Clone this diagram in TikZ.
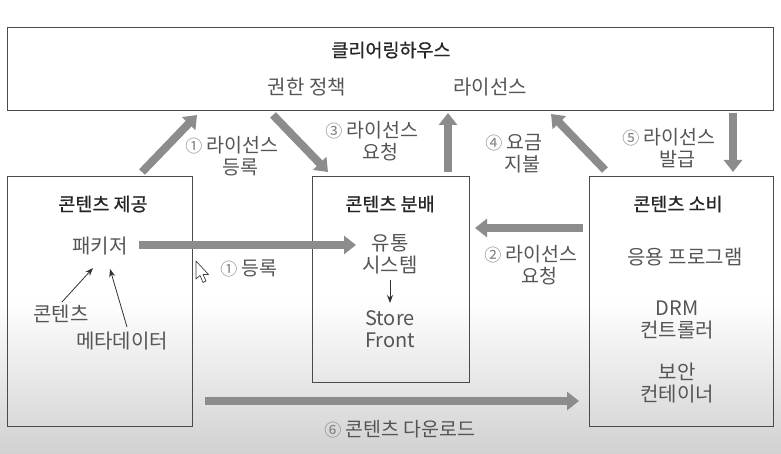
\documentclass[tikz,border=0pt]{standalone}
\usepackage{fontspec}
\setmainfont{Noto Sans CJK KR}
\newfontfamily\krtitle[FakeBold=0.8]{Noto Sans CJK KR}
\usetikzlibrary{arrows.meta,calc}
\definecolor{arrowgray}{HTML}{8C8C8C}
\definecolor{boxline}{HTML}{4A4A4A}
\definecolor{txtgray}{HTML}{555555}
\definecolor{numgray}{HTML}{808080}
\begin{document}
\begin{tikzpicture}[x=1pt,y=-1pt,
  box/.style={draw=boxline, line width=1.2pt, inner sep=0pt},
  ttl/.style={font=\krtitle\fontsize{18.5}{22}\selectfont, text=black!85, inner sep=0pt},
  txt/.style={font=\fontsize{20}{22}\selectfont, text=txtgray, align=center, inner sep=0pt},
  lbl/.style={font=\fontsize{19.5}{22}\selectfont, text=txtgray, align=center, inner sep=0pt},
  bigarrow/.style={-{Triangle[width=18pt,length=12pt]}, line width=8pt, draw=arrowgray},
  thinarrow/.style={-{Stealth[width=6pt,length=8pt]}, line width=0.8pt, draw=black!80}]
\newcommand{\cn}[1]{{\color{numgray}\fontsize{17}{22}\selectfont#1}}
% background
\fill[white] (0,0) rectangle (781,454);
\shade[top color=white, bottom color=black!18] (0,300) rectangle (781,454);
\useasboundingbox (0,0) rectangle (781,454);

% boxes
\node[box, anchor=north west, minimum width=766pt, minimum height=83pt] (ch) at (7,27) {};
\node[box, anchor=north west, minimum width=185pt, minimum height=250pt] (prov) at (7,176) {};
\node[box, anchor=north west, minimum width=157pt, minimum height=206pt] (dist) at (312,176) {};
\node[box, anchor=north west, minimum width=184pt, minimum height=250pt] (cons) at (589,176) {};

% clearing house texts
\node[ttl] (chT) at (391,50) {클리어링하우스};
\node[txt] (pol) at (307,87) {권한 정책};
\node[txt] (lic) at (490,87) {라이선스};

% provider
\node[ttl] (provT) at (103,204) {콘텐츠 제공};
\node[txt] (pk) at (100,246) {패키저};
\node[txt] (c1) at (61,314) {콘텐츠};
\node[txt] (md) at (122,341) {메타데이터};

% distribution
\node[ttl] (distT) at (390,204) {콘텐츠 분배};
\node[txt] (sys) at (390,254) {유통\\시스템};
\node[txt] (sf) at (390,329) {Store\\Front};

% consumer
\node[ttl] (consT) at (678,204) {콘텐츠 소비};
\node[txt] (app) at (685,257) {응용 프로그램};
\node[txt] (drm) at (677,320) {DRM\\컨트롤러};
\node[txt] (sec) at (677,383) {보안\\컨테이너};

% labels
\node[lbl] (l1) at (232,156) {\cn{①} 라이선스\\\phantom{\cn{①}}등록};
\node[lbl] (l3) at (372,141) {\cn{③} 라이선스\\\phantom{\cn{①}}요청};
\node[lbl] (l4) at (514,154) {\cn{④} 요금\\\phantom{\cn{①}}지불};
\node[lbl] (l5) at (669,148) {\cn{⑤} 라이선스\\\phantom{\cn{①}}발급};
\node[lbl] (l2) at (531,265) {\cn{②} 라이선스\\\phantom{\cn{①}}요청};
\node[lbl] (lr) at (249,268) {\cn{①} 등록};
\node[lbl] (l6) at (400,429) {\cn{⑥} 콘텐츠 다운로드};

% arrow end points
\coordinate (a1s) at (142,172); \coordinate (a1e) at (197,115);
\coordinate (a3s) at (273,115); \coordinate (a3e) at (328,172);
\coordinate (a4s) at (448,172); \coordinate (a4e) at (448,113);
\coordinate (a6s) at (605,170); \coordinate (a6e) at (551,114);
\coordinate (a5s) at (733,113); \coordinate (a5e) at (733,172);
\coordinate (a2s) at (583,228); \coordinate (a2e) at (475,228);
\coordinate (pks) at (139,245); \coordinate (pke) at (356,245);
\coordinate (dls) at (205,401); \coordinate (dle) at (579,401);

\draw[bigarrow] (a1s) -- (a1e);
\draw[bigarrow] (a3s) -- (a3e);
\draw[bigarrow] (a4s) -- (a4e);
\draw[bigarrow] (a6s) -- (a6e);
\draw[bigarrow] (a5s) -- (a5e);
\draw[bigarrow] (a2s) -- (a2e);
\draw[bigarrow] (pks) -- (pke);
\draw[bigarrow] (dls) -- (dle);

% thin arrows
\coordinate (t1s) at (62,302); \coordinate (t1e) at (93,268);
\coordinate (t2s) at (127,327); \coordinate (t2e) at (110,269);
\coordinate (ss) at (390,280); \coordinate (se) at (390,303);
\draw[thinarrow] (t1s) -- (t1e);
\draw[thinarrow] (t2s) -- (t2e);
\draw[thinarrow] (ss) -- (se);

% cursor
\draw[fill=white, draw=black!75, line width=0.7pt, line join=round]
  (196,261) -- (196,279) -- (200,275.5) -- (203,282.5) -- (206,281) -- (203,274.5) -- (208.5,274.5) -- cycle;
\end{tikzpicture}
\end{document}
